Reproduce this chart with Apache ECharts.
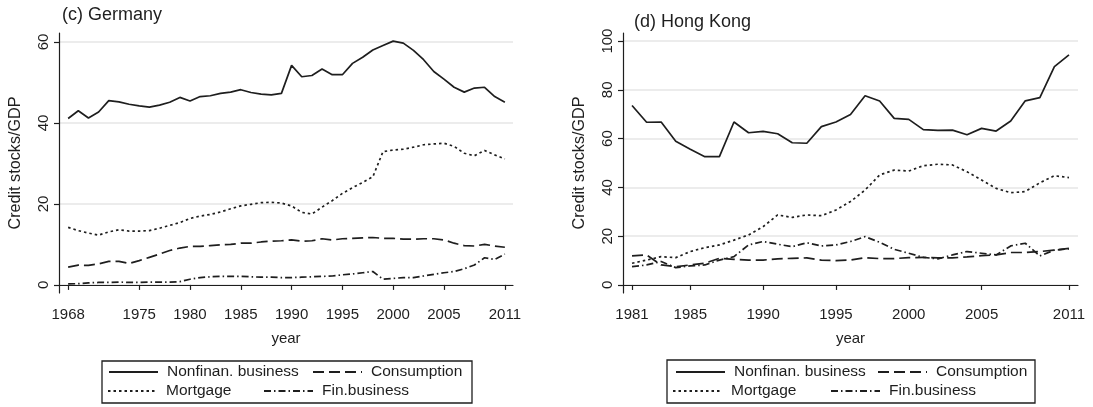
<!DOCTYPE html>
<html>
<head>
<meta charset="utf-8">
<script src="https://cdn.jsdelivr.net/npm/echarts@6/dist/echarts.min.js"></script>
<style>
    html, body { margin: 0; padding: 0; background: #fff; }
    #chart { width: 1093px; height: 407px; }
</style>
</head>
<body>
<div id="chart"></div>
<script>
// years
const yearsDE = [1968, 1969, 1970, 1971, 1972, 1973, 1974, 1975, 1976, 1977, 1978, 1979, 1980, 1981, 1982,
    1983, 1984, 1985, 1986, 1987, 1988, 1989, 1990, 1991, 1992, 1993, 1994, 1995, 1996, 1997, 1998, 1999,
    2000, 2001, 2002, 2003, 2004, 2005, 2006, 2007, 2008, 2009, 2010, 2011];
const yearsHK = [1981, 1982, 1983, 1984, 1985, 1986, 1987, 1988, 1989, 1990, 1991, 1992, 1993, 1994, 1995,
    1996, 1997, 1998, 1999, 2000, 2001, 2002, 2003, 2004, 2005, 2006, 2007, 2008, 2009, 2010, 2011];

// (c) Germany
const deNonfin = [41.1, 43.0, 41.2, 42.7, 45.5, 45.2, 44.6, 44.2, 43.9, 44.4, 45.1, 46.3, 45.4, 46.5, 46.7,
    47.3, 47.6, 48.2, 47.5, 47.1, 46.9, 47.3, 54.2, 51.4, 51.7, 53.3, 51.9, 51.9, 54.7, 56.2, 58.0, 59.1,
    60.2, 59.7, 57.9, 55.6, 52.7, 50.8, 48.8, 47.6, 48.6, 48.8, 46.5, 45.1];
const deConsump = [4.4, 4.9, 4.8, 5.2, 5.8, 5.8, 5.3, 6.0, 6.8, 7.6, 8.5, 9.1, 9.5, 9.5, 9.7,
    9.9, 10.0, 10.3, 10.3, 10.6, 10.8, 10.9, 11.1, 10.8, 10.9, 11.4, 11.1, 11.4, 11.5, 11.6, 11.7, 11.5,
    11.5, 11.3, 11.3, 11.4, 11.4, 11.1, 10.3, 9.7, 9.6, 10.0, 9.6, 9.3];
const deMortgage = [14.2, 13.4, 12.8, 12.3, 13.1, 13.6, 13.3, 13.3, 13.4, 14.0, 14.7, 15.4, 16.4, 17.0, 17.4,
    18.0, 18.8, 19.5, 19.9, 20.3, 20.4, 20.2, 19.5, 17.9, 17.5, 19.2, 20.8, 22.6, 24.0, 25.3, 26.7, 32.9,
    33.3, 33.5, 34.0, 34.6, 34.8, 35.0, 34.2, 32.5, 31.9, 33.2, 32.1, 31.1];
const deFinbus = [0.25, 0.3, 0.5, 0.6, 0.6, 0.7, 0.6, 0.6, 0.7, 0.7, 0.7, 0.8, 1.4, 1.8, 2.0,
    2.1, 2.1, 2.1, 2.0, 1.9, 1.9, 1.8, 1.8, 1.9, 2.0, 2.1, 2.2, 2.5, 2.7, 3.0, 3.3, 1.4,
    1.6, 1.8, 1.8, 2.2, 2.6, 3.0, 3.3, 4.0, 4.9, 6.7, 6.3, 7.6];

// (d) Hong Kong
const hkNonfin = [73.6, 66.7, 66.8, 58.9, 55.6, 52.6, 52.6, 66.8, 62.4, 63.0, 62.0, 58.3, 58.1, 64.9, 66.8,
    69.9, 77.6, 75.4, 68.3, 67.9, 63.7, 63.4, 63.5, 61.6, 64.2, 63.1, 67.2, 75.5, 76.8, 89.5, 94.3];
const hkConsump = [11.9, 12.3, 8.2, 7.5, 8.2, 8.9, 10.9, 10.5, 10.2, 10.2, 10.7, 10.9, 11.1, 10.2, 10.0,
    10.2, 11.2, 10.8, 10.8, 11.2, 11.3, 11.1, 11.1, 11.5, 12.0, 12.3, 13.3, 13.3, 13.7, 14.3, 15.0];
const hkMortgage = [8.9, 10.2, 11.6, 11.2, 13.7, 15.3, 16.4, 18.4, 20.5, 23.9, 28.7, 27.7, 28.7, 28.4, 30.7,
    34.2, 38.9, 45.1, 47.1, 46.7, 48.9, 49.5, 49.2, 46.4, 43.0, 39.6, 37.8, 38.3, 41.9, 44.8, 44.0];
const hkFinbus = [7.5, 8.2, 9.6, 7.1, 7.8, 8.2, 10.2, 11.6, 16.4, 17.8, 16.7, 15.7, 17.3, 16.0, 16.4,
    17.8, 19.8, 17.5, 14.6, 13.0, 11.3, 10.7, 12.3, 13.7, 13.0, 12.3, 16.0, 17.1, 11.9, 14.3, 14.8];

// tick labels
const deXTicks = [1968, 1975, 1980, 1985, 1990, 1995, 2000, 2005, 2011];
const hkXTicks = [1981, 1985, 1990, 1995, 2000, 2005, 2011];
const deYTicks = [0, 20, 40, 60];
const hkYTicks = [0, 20, 40, 60, 80, 100];

const seriesNames = ["Nonfinan. business", "Consumption", "Mortgage", "Fin.business"];

const FONT = "Liberation Sans, Arial, Helvetica, sans-serif";
const INK = "#1e1e1e";

// line styles (Stata-like patterns)
const lineTypes = {
    "Nonfinan. business": "solid",
    "Consumption": [11, 5],
    "Mortgage": [2.5, 3],
    "Fin.business": [7, 3, 1.5, 3],
};

function pairs(years, vals) {
    return years.map((y, i) => [y, vals[i]]);
}

function makeSeries(name, idx, years, vals) {
    return {
        name: name,
        type: "line",
        xAxisIndex: idx,
        yAxisIndex: idx,
        data: pairs(years, vals),
        symbol: "none",
        smooth: false,
        color: INK,
        lineStyle: { color: INK, width: 1.7, type: lineTypes[name] },
        emphasis: { disabled: true },
        animation: false,
    };
}

function xAxis(idx, min, max, ticks) {
    return {
        type: "value",
        gridIndex: idx,
        min: min,
        max: max,
        name: "year",
        nameLocation: "middle",
        nameGap: 38,
        nameTextStyle: { color: INK, fontSize: 15, fontFamily: FONT },
        axisLine: { show: true, lineStyle: { color: INK, width: 1.2 } },
        axisTick: { show: true, inside: false, length: 5, customValues: ticks, lineStyle: { color: INK, width: 1.2 } },
        axisLabel: {
            customValues: ticks, margin: 14, color: INK, fontSize: 15, fontFamily: FONT,
            formatter: v => String(v),
        },
        splitLine: { show: false },
    };
}

function yAxis(idx, min, max, ticks) {
    return {
        type: "value",
        gridIndex: idx,
        min: min,
        max: max,
        name: "Credit stocks/GDP",
        nameLocation: "middle",
        nameGap: 35,
        nameTextStyle: { color: INK, fontSize: 16.2, fontFamily: FONT },
        axisLine: { show: true, lineStyle: { color: INK, width: 1.2 } },
        axisTick: { show: true, inside: false, length: 5, customValues: ticks, lineStyle: { color: INK, width: 1.2 } },
        axisLabel: { customValues: ticks, rotate: 90, margin: 8, color: INK, fontSize: 15, fontFamily: FONT },
        splitLine: { show: true, lineStyle: { color: "#e6e6e6", width: 1.5 } },
    };
}

function legendItem(name, left, cy) {
    return {
        data: [name],
        left: left,
        top: cy - 9,
        padding: 0,
        itemWidth: 49,
        itemHeight: 2,
        itemStyle: { opacity: 0 },
        selectedMode: false,
        textStyle: { color: INK, fontSize: 15.5, fontFamily: FONT, padding: [0, 0, 0, 4] },
    };
}

const chart = echarts.init(document.getElementById("chart"), null, { renderer: "canvas" });

const option = {
    animation: false,
    backgroundColor: "#fff",
    title: [
        { text: "(c) Germany", left: 62, top: 6, padding: 0, textStyle: { color: INK, fontSize: 18, fontWeight: "normal", fontFamily: FONT } },
        { text: "(d) Hong Kong", left: 634, top: 13, padding: 0, textStyle: { color: INK, fontSize: 18, fontWeight: "normal", fontFamily: FONT } },
    ],
    grid: [
        { left: 59, right: 580, top: 33, bottom: 114, outerBoundsMode: "none", containLabel: false },
        { left: 623, right: 15, top: 33, bottom: 114, outerBoundsMode: "none", containLabel: false },
    ],
    xAxis: [
        xAxis(0, 1967.1, 2011.8, deXTicks),
        xAxis(1, 1980.38, 2011.62, hkXTicks),
    ],
    yAxis: [
        yAxis(0, -2, 62.2, deYTicks),
        yAxis(1, -3.3, 103.3, hkYTicks),
    ],
    legend: [
        legendItem(seriesNames[0], 108, 373),
        legendItem(seriesNames[1], 312, 373),
        legendItem(seriesNames[2], 107, 392),
        legendItem(seriesNames[3], 263, 392),
        legendItem(seriesNames[0], 675, 373),
        legendItem(seriesNames[1], 877, 373),
        legendItem(seriesNames[2], 672, 392),
        legendItem(seriesNames[3], 830, 392),
    ],
    // legend frames
    graphic: [
        { type: "rect", shape: { x: 102, y: 361, width: 370, height: 42 }, style: { fill: "none", stroke: INK, lineWidth: 1.3 }, silent: true },
        { type: "rect", shape: { x: 667, y: 360, width: 368, height: 43 }, style: { fill: "none", stroke: INK, lineWidth: 1.3 }, silent: true },
    ],
    series: [
        makeSeries(seriesNames[0], 0, yearsDE, deNonfin),
        makeSeries(seriesNames[1], 0, yearsDE, deConsump),
        makeSeries(seriesNames[2], 0, yearsDE, deMortgage),
        makeSeries(seriesNames[3], 0, yearsDE, deFinbus),
        makeSeries(seriesNames[0], 1, yearsHK, hkNonfin),
        makeSeries(seriesNames[1], 1, yearsHK, hkConsump),
        makeSeries(seriesNames[2], 1, yearsHK, hkMortgage),
        makeSeries(seriesNames[3], 1, yearsHK, hkFinbus),
    ],
};

chart.setOption(option);
</script>
</body>
</html>
